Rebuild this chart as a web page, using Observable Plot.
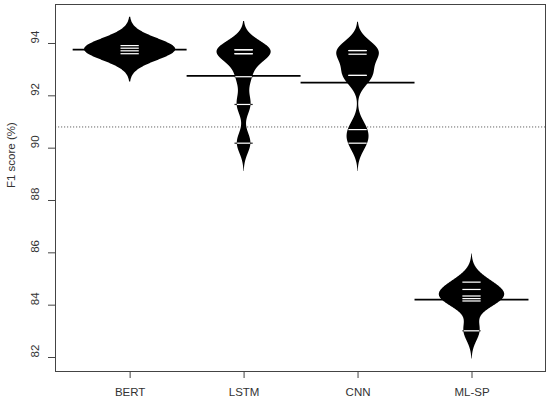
<!DOCTYPE html>
<html><head><meta charset="utf-8">
<script src="https://cdn.jsdelivr.net/npm/d3@7"></script>
<script src="https://cdn.jsdelivr.net/npm/@observablehq/plot@0.6"></script>
<style>body{margin:0;background:#fff;}</style>
</head><body><div id="chart"></div>
<script>
const models = ["BERT", "LSTM", "CNN", "ML-SP"];
const bert = [93.92, 93.82, 93.72, 93.61];
const lstm = [93.76, 93.76, 93.61, 93.61, 92.73, 91.67, 90.19];
const cnn = [93.73, 93.73, 93.59, 92.78, 92.78, 90.71, 90.19];
const mlsp = [84.88, 84.60, 84.35, 84.25, 84.16, 83.02];
const yTicks = [82, 84, 86, 88, 90, 92, 94];

const series = [bert, lstm, cnn, mlsp];
const h = 0.40;      // kernel bandwidth
const cut = 1.08;    // bean extends this far beyond the extreme observations
const dens = (vals, y) => d3.mean(vals, v => Math.exp(-0.5 * ((y - v) / h) ** 2)) / (h * Math.sqrt(2 * Math.PI));

const beanRows = [];
series.forEach((vals, i) => {
  const lo = d3.min(vals) - cut, hi = d3.max(vals) + cut;
  for (let k = 0; k <= 240; k++) {
    const y = lo + (hi - lo) * k / 240;
    beanRows.push({model: models[i], pos: i + 1, y, d: dens(vals, y)});
  }
});
const s = 0.4 / d3.max(beanRows, r => r.d);

const pointRows = [];
series.forEach((vals, i) => vals.forEach(v => pointRows.push({pos: i + 1, y: v, hw: dens(vals, v) * s})));
const meanRows = series.map((vals, i) => ({pos: i + 1, y: d3.mean(vals)}));
const overall = d3.mean(meanRows, r => r.y);
const ll = 0.08;
const font = "'Liberation Sans', Arial, sans-serif";

const chart = Plot.plot({
  width: 550, height: 400,
  marginLeft: 55, marginRight: 5, marginTop: 4, marginBottom: 29,
  style: {fontFamily: font, fontSize: "11.5px", color: "#333", background: "#fff"},
  x: {type: "linear", domain: [0.345, 4.645], axis: null},
  y: {domain: [81.465, 95.49], axis: null},
  marks: [
    Plot.ruleY([overall], {stroke: "#666", strokeDasharray: "1.2,1.8", strokeWidth: 1}),
    Plot.areaX(beanRows, {y: "y", x1: r => r.pos - r.d * s, x2: r => r.pos + r.d * s, z: "model", fill: "black", curve: "linear"}),
    Plot.ruleY(meanRows, {y: "y", x1: r => r.pos - 0.5, x2: r => r.pos + 0.5, stroke: "black", strokeWidth: 1.8}),
    Plot.ruleY(pointRows, {y: "y", x1: r => r.pos - ll, x2: r => r.pos + ll, stroke: "#222", strokeWidth: 1.2}),
    Plot.ruleY(pointRows, {y: "y", x1: r => r.pos - Math.min(ll, r.hw * 0.95), x2: r => r.pos + Math.min(ll, r.hw * 0.95), stroke: "white", strokeWidth: 1.2}),
    Plot.frame({stroke: "#444", strokeWidth: 1}),
    Plot.axisY(yTicks, {tickSize: 7, tickFormat: () => "", stroke: "#444", label: null}),
    Plot.text(yTicks, {y: d => d, frameAnchor: "left", dx: -20, rotate: -90, text: d => String(d), fill: "#333", fontSize: 11.5}),
    Plot.text(["F1 score (%)"], {frameAnchor: "left", dx: -44, rotate: -90, fill: "#333", fontSize: 11.5}),
    Plot.axisX([1, 2, 3, 4], {tickSize: 7, tickPadding: 9, tickFormat: d => models[d - 1], stroke: "#444", fill: "#333", fontSize: 11.5, label: null})
  ]
});
document.getElementById("chart").append(chart);
</script></body></html>
